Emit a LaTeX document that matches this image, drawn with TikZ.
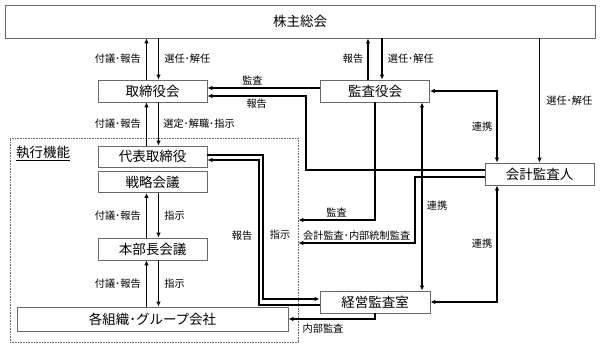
\documentclass[tikz,border=0pt]{standalone}
\usepackage{fontspec}
\setmainfont{Noto Sans CJK JP}
\usepackage{xcolor}
\definecolor{govBorder}{RGB}{105, 105, 105}
\definecolor{govInk}{RGB}{0, 0, 0}
\usetikzlibrary{
    arrows.meta,
    positioning,
    calc
}

\begin{document}
\begin{tikzpicture}[
    x=1pt, y=-1pt,
    govBox/.style={
        rectangle,
        draw=govBorder, line width=0.8pt,
        fill=white, text=govInk,
        font=\fontsize{13.5}{15}\selectfont,
        align=center, inner sep=0pt, minimum width=109pt, minimum height=22pt
    },
    govFrame/.style={
        rectangle,
        draw=govBorder, line width=0.6pt, densely dotted,
        inner sep=0pt, minimum width=288pt, minimum height=204pt
    },
    govArrow/.style={
        -{Latex[length=5pt, width=4.5pt]}, line width=1.6pt, draw=govInk
    },
    govBiArrow/.style={
        {Latex[length=5pt, width=4.5pt]}-{Latex[length=5pt, width=4.5pt]},
        line width=1.6pt, draw=govInk
    },
    govLabel/.style={
        font=\fontsize{10.2}{11}\selectfont, text=govInk, inner sep=1pt
    }
]
    \useasboundingbox (0,0) rectangle (600,347);

    % Execution frame
    \node[govFrame] (exec) at (154, 240) {};
    \node[govLabel, font=\fontsize{13.5}{15}\selectfont, anchor=west] (execTitle) at (15, 153) {\underline{執行機能}};

    % Boxes
    \node[govBox, minimum width=590pt, minimum height=33pt] (share) at (300, 21.5) {株主総会};
    \node[govBox] (board) at (152.5, 91) {取締役会};
    \node[govBox] (auditors) at (375, 91) {監査役会};
    \node[govBox, minimum height=21pt] (rep) at (152.5, 156.5) {代表取締役};
    \node[govBox, minimum height=21pt] (strategy) at (152.5, 182) {戦略会議};
    \node[govBox] (hq) at (152.5, 249) {本部長会議};
    \node[govBox, minimum width=271pt, minimum height=24pt] (org) at (152.5, 319) {各組織･グループ会社};
    \node[govBox] (accountant) at (539.5, 174) {会計監査人};
    \node[govBox, minimum width=110pt] (internal) at (375, 302) {経営監査室};

    % Vertical flows (left column)
    \draw[govArrow] ([xshift=-6pt]board.north) -- node[govLabel, left=4pt] {付議･報告} ([xshift=-6pt]board.north |- share.south);
    \draw[govArrow] ([xshift=6pt]board.north |- share.south) -- node[govLabel, right=4pt] {選任･解任} ([xshift=6pt]board.north);
    \draw[govArrow] ([xshift=-6pt]rep.north) -- node[govLabel, left=4pt] {付議･報告} ([xshift=-6pt]board.south);
    \draw[govArrow] ([xshift=6pt]board.south) -- node[govLabel, right=3pt] {選定･解職･指示} ([xshift=6pt]rep.north);
    \draw[govArrow] ([xshift=-6pt]hq.north) -- node[govLabel, left=4pt] {付議･報告} ([xshift=-6pt]strategy.south);
    \draw[govArrow] ([xshift=6pt]strategy.south) -- node[govLabel, right=4pt] {指示} ([xshift=6pt]hq.north);
    \draw[govArrow] ([xshift=-6pt]org.north) -- node[govLabel, left=4pt] {付議･報告} ([xshift=-6pt]hq.south);
    \draw[govArrow] ([xshift=6pt]hq.south) -- node[govLabel, right=4pt] {指示} ([xshift=6pt]org.north);

    % Audit board flows
    \draw[govArrow] ([xshift=-7pt]auditors.north) -- node[govLabel, left=3pt] {報告} ([xshift=-7pt]auditors.north |- share.south);
    \draw[govArrow] ([xshift=7pt]auditors.north |- share.south) -- node[govLabel, right=4pt] {選任･解任} ([xshift=7pt]auditors.north);
    \draw[govArrow] ([yshift=3pt]auditors.west) -- node[govLabel, above=1pt, pos=0.6] {監査} ([yshift=3pt]board.east);
    \draw[govArrow] (auditors.south) |- node[govLabel, above=1pt, pos=0.75] {監査} (exec.east |- 0,220);
    \draw[govBiArrow] (auditors.east) -| node[govLabel, left=3pt, pos=0.75] {連携} ([xshift=-42.5pt]accountant.north);
    \draw[govBiArrow] ([xshift=47pt]internal.north) -- node[govLabel, right=3pt, pos=0.45] {連携} ([xshift=47pt]internal.north |- auditors.south);

    % Accounting auditor flows
    \draw[govArrow] (share.south -| accountant.north) -- node[govLabel, right=5pt] {選任･解任} (accountant.north);
    \draw[govArrow] ([yshift=4pt]accountant.west) -- (306, 170) -- (306, 96) -- node[govLabel, below=1pt] {報告} ([yshift=-5pt]board.east);
    \draw[govArrow] ([yshift=-3pt]accountant.west) -- (415, 177) -- (415, 243) -- node[govLabel, above=1pt] {会計監査･内部統制監査} (exec.east |- 0,243);
    \draw[govBiArrow] (internal.east) -| node[govLabel, left=3pt, pos=0.75] {連携} ([xshift=-42.5pt]accountant.south);

    % Internal audit flows
    \draw[govArrow] ([yshift=1.5pt]rep.east) -- (263, 155) -- node[govLabel, right=5pt, pos=0.55] {指示} (263, 299) -- ([yshift=3pt]internal.west);
    \draw[govArrow] ([yshift=-3pt]internal.west) -- (259, 305) -- node[govLabel, left=5pt, pos=0.48] {報告} (259, 160) -- ([yshift=-3.5pt]rep.east);
    \draw[govArrow] (internal.south) |- node[govLabel, below=3pt, pos=0.8] {内部監査} (org.east);

\end{tikzpicture}
\end{document}
